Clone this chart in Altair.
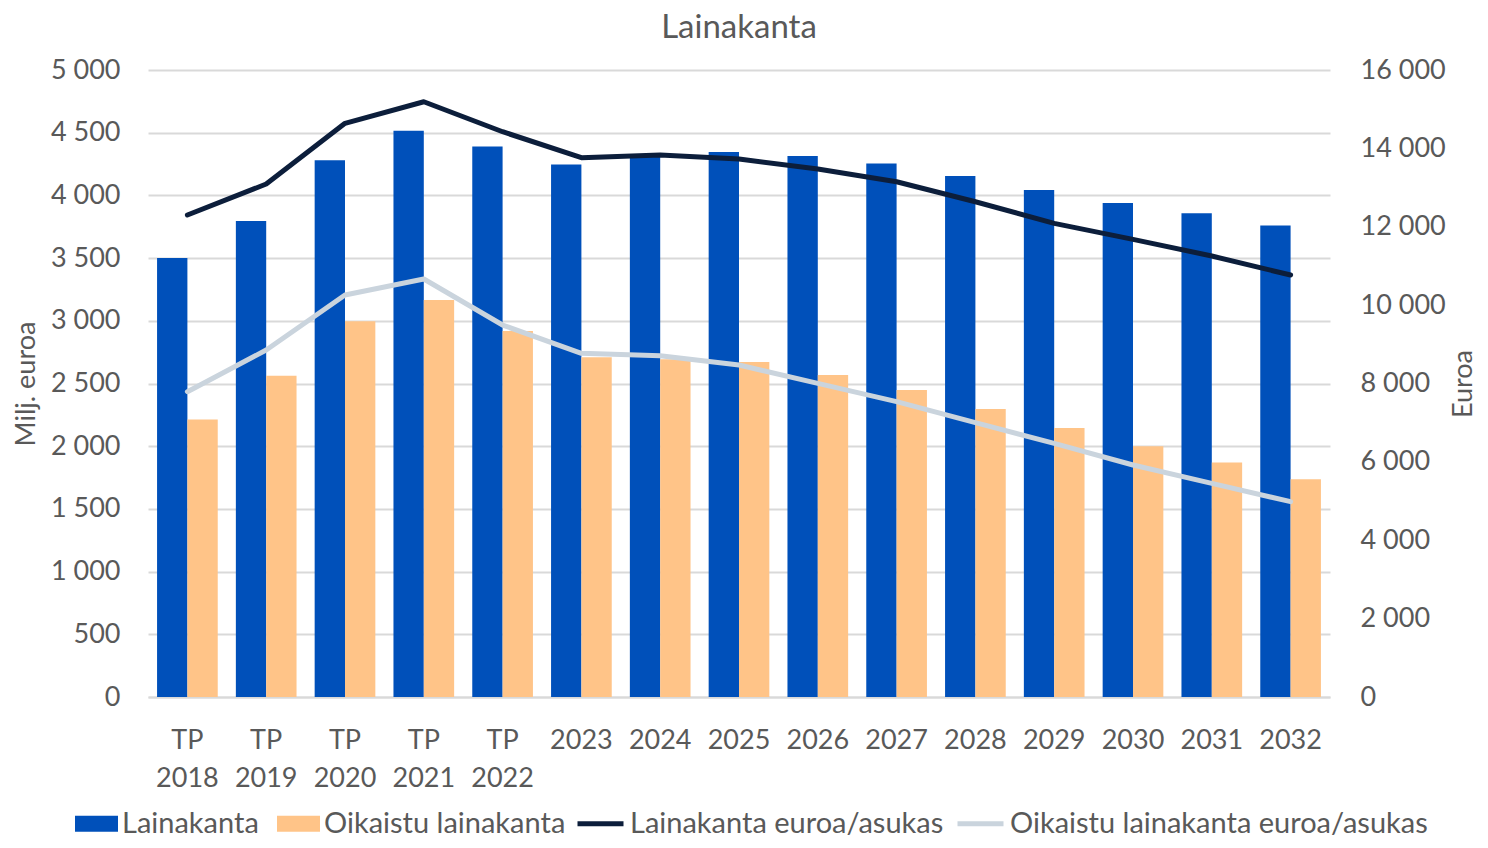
import altair as alt
import pandas as pd

categories = ["TP 2018", "TP 2019", "TP 2020", "TP 2021", "TP 2022", "2023", "2024",
              "2025", "2026", "2027", "2028", "2029", "2030", "2031", "2032"]
lainakanta = [3500, 3795, 4280, 4516, 4389, 4247, 4330, 4346, 4314, 4255, 4155, 4043, 3939, 3857, 3759]
oikaistu = [2212, 2562, 2996, 3166, 2919, 2709, 2693, 2671, 2568, 2448, 2297, 2145, 1999, 1871, 1736]
laina_asukas = [12300, 13090, 14640, 15190, 14425, 13762, 13830, 13728, 13473, 13149, 12639, 12087, 11679, 11253, 10768]
oik_asukas = [7791, 8854, 10258, 10666, 9492, 8770, 8709, 8472, 8004, 7536, 7000, 6473, 5920, 5453, 4984]

bar_series = ["Lainakanta", "Oikaistu lainakanta"]
line_series = ["Lainakanta euroa/asukas", "Oikaistu lainakanta euroa/asukas"]
bar_colors = ["#0050BA", "#FFC488"]
line_colors = ["#0C1E3B", "#CAD4DD"]

bars_df = pd.DataFrame(
    [{"cat": c, "series": bar_series[0], "value": v} for c, v in zip(categories, lainakanta)]
    + [{"cat": c, "series": bar_series[1], "value": v} for c, v in zip(categories, oikaistu)]
)
lines_df = pd.DataFrame(
    [{"cat": c, "series": line_series[0], "value": v} for c, v in zip(categories, laina_asukas)]
    + [{"cat": c, "series": line_series[1], "value": v} for c, v in zip(categories, oik_asukas)]
)

FONT = "Lato"
TXT = "#595959"
FS = 27
LFS = 29

x_enc = alt.X("cat:N", sort=categories, title=None,
              scale=alt.Scale(paddingInner=0.23, paddingOuter=0.115),
              axis=alt.Axis(labelExpr="split(datum.label, ' ')", labelAngle=0,
                            labelFontSize=FS, labelFont=FONT, labelColor=TXT,
                            labelLineHeight=38, labelPadding=43, labelBaseline="middle",
                            ticks=False, domainColor="#D9D9D9", domainWidth=2,
                            grid=False))

bars = alt.Chart(bars_df).mark_bar().encode(
    x=x_enc,
    xOffset=alt.XOffset("series:N", sort=bar_series, scale=alt.Scale(domain=bar_series)),
    y=alt.Y("value:Q", title="Milj. euroa",
            scale=alt.Scale(domain=[0, 5000], nice=False),
            axis=alt.Axis(values=list(range(0, 5001, 500)), orient="left",
                          labelExpr="replace(format(datum.value, ','), ',', ' ')",
                          labelFontSize=FS, labelFont=FONT, labelColor=TXT, labelPadding=28,
                          titleFontSize=FS, titleFont=FONT, titleColor=TXT, titleFontWeight="normal",
                          titlePadding=10, domain=False, ticks=False,
                          gridColor="#D9D9D9", gridWidth=2)),
    color=alt.Color("series:N", sort=bar_series,
                    scale=alt.Scale(domain=bar_series, range=bar_colors),
                    legend=alt.Legend(title=None, orient="none", direction="horizontal",
                                      legendX=-73, legendY=732,
                                      symbolType="M-1,-0.37H1V0.37H-1Z", symbolSize=1849,
                                      symbolStrokeWidth=0, labelLimit=600,
                                      labelFont=FONT, labelFontSize=LFS, labelColor=TXT,
                                      labelOffset=4, columnPadding=18)),
)

lines = alt.Chart(lines_df).mark_line(strokeWidth=5, strokeCap="round", strokeJoin="round").encode(
    x=alt.X("cat:N", sort=categories),
    y=alt.Y("value:Q", title="Euroa",
            scale=alt.Scale(domain=[0, 16000], nice=False),
            axis=alt.Axis(values=list(range(0, 16001, 2000)), orient="right",
                          labelExpr="replace(format(datum.value, ','), ',', ' ')",
                          labelFontSize=FS, labelFont=FONT, labelColor=TXT, labelPadding=30,
                          titleFontSize=FS, titleFont=FONT, titleColor=TXT, titleFontWeight="normal",
                          titleAngle=270, titlePadding=32, domain=False, ticks=False, grid=False)),
    color=alt.Color("series:N", sort=line_series,
                    scale=alt.Scale(domain=line_series, range=line_colors),
                    legend=alt.Legend(title=None, orient="none", direction="horizontal",
                                      legendX=427, legendY=728,
                                      symbolType="stroke", symbolSize=2116, symbolStrokeWidth=5,
                                      labelLimit=600,
                                      labelFont=FONT, labelFontSize=LFS, labelColor=TXT,
                                      labelOffset=4, columnPadding=3)),
)

chart = alt.layer(bars, lines).resolve_scale(
    y="independent", color="independent"
).properties(
    width=1182, height=627,
    title=alt.Title("Lainakanta", font=FONT, fontSize=33, fontWeight="normal", color=TXT, offset=11),
    autosize=alt.AutoSizeParams(type="none"),
    padding={"left": 140, "top": 62, "right": 150, "bottom": 143},
).configure_view(stroke=None)

chart.save("out.html", embed_options={"renderer": "svg", "actions": False})
